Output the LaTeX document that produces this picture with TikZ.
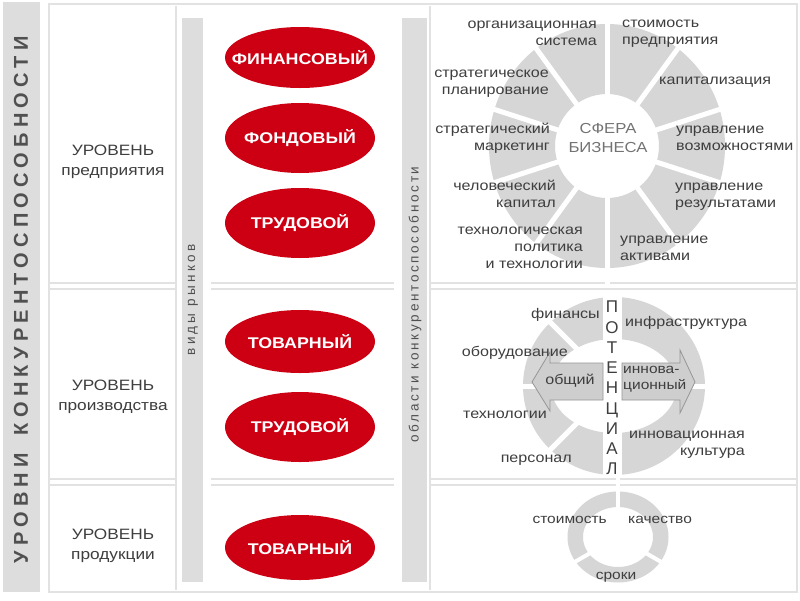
\documentclass[tikz,border=0pt]{standalone}
\usepackage{fontspec}
\setmainfont[FakeStretch=1.15]{Liberation Sans}
\newfontfamily\rotfont{Liberation Sans}
\usetikzlibrary{shapes.geometric}
\definecolor{segfill}{RGB}{214,214,214}
\definecolor{barfill}{RGB}{221,221,221}
\definecolor{panelline}{RGB}{226,226,226}
\definecolor{txt}{RGB}{62,62,62}
\definecolor{titletxt}{RGB}{80,80,80}
\definecolor{sfera}{RGB}{115,115,115}
\definecolor{redell}{RGB}{204,0,18}
\definecolor{arrfill}{RGB}{206,206,206}
\definecolor{arrline}{RGB}{150,150,150}
\begin{document}
\begin{tikzpicture}[x=1pt,y=-1pt,
  pline/.style={draw=panelline,line width=2.5pt},
  market/.style={ellipse,fill=redell,text=white,font=\fontsize{15.5}{17}\selectfont\bfseries,minimum width=150pt,minimum height=64pt,inner xsep=-30pt,inner ysep=0pt},
  lbl/.style={text=txt,font=\fontsize{14}{16.8}\selectfont,inner sep=0pt,align=center},
  lblr/.style={lbl,anchor=east,align=right},
  lbll/.style={lbl,anchor=west,align=left},
  level/.style={text=txt,font=\fontsize{15}{20}\selectfont,align=center,inner sep=0pt},
  gap/.style={draw=white,line width=5pt},
  arrowshape/.style={fill=arrfill,draw=arrline,line width=0.8pt,line join=miter},
]
\useasboundingbox (0,0) rectangle (800,600);
\fill[white] (0,0) rectangle (800,600);

% frame and panels
\draw[pline] (49,4) rectangle (797,592);
\foreach \xa/\xb in {50/176,211/394,430/797}{
  \draw[pline] (\xa,283) -- (\xb,283);
  \draw[pline] (\xa,289) -- (\xb,289);
  \draw[pline] (\xa,479) -- (\xb,479);
  \draw[pline] (\xa,485) -- (\xb,485);
}
\draw[pline] (176,6) -- (176,590);
\draw[pline] (430,6) -- (430,590);

% bars
\fill[barfill] (3,2) rectangle (40,592);
\fill[barfill] (182,18) rectangle (203,582);
\fill[barfill] (402,18) rectangle (427,582);

\node[rotate=90,text=titletxt,inner sep=0pt,font={\fontsize{20}{20}\rotfont\bfseries\addfontfeature{LetterSpace=26}}] (title) at (21,300) {УРОВНИ\hspace{18pt}КОНКУРЕНТОСПОСОБНОСТИ};
\node[rotate=90,text=titletxt,inner sep=0pt,font={\fontsize{13.5}{14}\rotfont\addfontfeature{LetterSpace=24}}] (vidy) at (193,300) {виды рынков};
\node[rotate=90,text=titletxt,inner sep=0pt,font={\fontsize{13.5}{14}\rotfont\addfontfeature{LetterSpace=20}}] (oblasti) at (415,304.5) {области конкурентоспособности};

% level labels
\node[level] (lv1) at (113,162) {УРОВЕНЬ\\предприятия};
\node[level] (lv2) at (113,397) {УРОВЕНЬ\\производства};
\node[level] (lv3) at (113,546) {УРОВЕНЬ\\продукции};

% markets
\node[market,minimum height=61pt] (m1) at (300,57.5) {ФИНАНСОВЫЙ};
\node[market,minimum height=70pt] (m2) at (300,138) {ФОНДОВЫЙ};
\node[market,minimum height=70pt] (m3) at (300,223) {ТРУДОВОЙ};
\node[market,minimum height=63pt] (m4) at (300,341.5) {ТОВАРНЫЙ};
\node[market,minimum height=70pt] (m5) at (300,427) {ТРУДОВОЙ};
\node[market,minimum height=65pt] (m6) at (300,547.5) {ТОВАРНЫЙ};

% ring 1: sphere of business
\fill[segfill,even odd rule] (607,146) ellipse [x radius=118,y radius=122] (607,146) circle [radius=52];
\foreach \a in {18,54,90,126,162,198,234,270,306,342}
  \draw[gap] (607,146) -- ++(\a:140);
\node[lblr] (org) at (597,33.5) {организационная\\система};
\node[lbll] (stoim) at (622,33.5) {стоимость\\предприятия};
\node[lblr] (splan) at (549,83.5) {стратегическое\\планирование};
\node[lbll] (kap) at (659,82) {капитализация};
\node[lblr] (smark) at (550,138.5) {стратегический\\маркетинг};
\node[lbll] (uvoz) at (676,138.5) {управление\\возможностями};
\node[lbl,text=sfera,font=\fontsize{14.5}{19.5}\selectfont] (sfera) at (608,138) {СФЕРА\\БИЗНЕСА};
\node[lblr] (chel) at (556,193.5) {человеческий\\капитал};
\node[lbll] (ures) at (675,196.5) {управление\\результатами};
\node[lblr] (tech) at (583,248) {технологическая\\политика\\и технологии};
\node[lbll] (uakt) at (620,248.5) {управление\\активами};

% ring 2: potential
\fill[segfill,even odd rule] (614,386) ellipse [x radius=91,y radius=89] (614,386) ellipse [x radius=63,y radius=47];
\fill[white] (603,292) rectangle (622,478);
\foreach \a in {0,135,180,225}
  \draw[gap] (614,386) -- ++(\a:110);
\draw[arrowshape] (603,363) -- (550,363) -- (550,352) -- (532,382) -- (550,411) -- (550,400) -- (603,400) -- cycle;
\draw[arrowshape] (622,363) -- (680,363) -- (680,350) -- (695,382) -- (680,413) -- (680,400) -- (622,400) -- cycle;
\node[text=txt,inner sep=0pt,align=center,font={\fontsize{17}{20.25}\rotfont}] (pot) at (612,388) {П\\О\\Т\\Е\\Н\\Ц\\И\\А\\Л};
\node[lblr] (fin) at (600,315) {финансы};
\node[lbll] (infra) at (625,323) {инфраструктура};
\node[lblr] (obor) at (568,353) {оборудование};
\node[lblr] (techn) at (547,415) {технологии};
\node[lblr] (pers) at (572,460) {персонал};
\node[lblr] (icult) at (745,445) {инновационная\\культура};
\node[lbl] (obsh) at (570,381) {общий};
\node[lbll,font=\fontsize{13.5}{16}\selectfont] (innov) at (623,379) {иннова-\\ционный};

% ring 3: product
\fill[segfill,even odd rule] (618,537) ellipse [x radius=50.5,y radius=45.5] (618,537) ellipse [x radius=35,y radius=30];
\foreach \a in {270,150,30}
  \draw[gap,line width=4pt] (618,537) -- ++(\a:70);
\node[lblr,font=\fontsize{13.5}{16}\selectfont] (cst) at (607,520) {стоимость};
\node[lbll,font=\fontsize{13.5}{16}\selectfont] (qual) at (628,520) {качество};
\node[lbl,font=\fontsize{13.5}{16}\selectfont] (srok) at (616,577) {сроки};
\end{tikzpicture}
\end{document}
